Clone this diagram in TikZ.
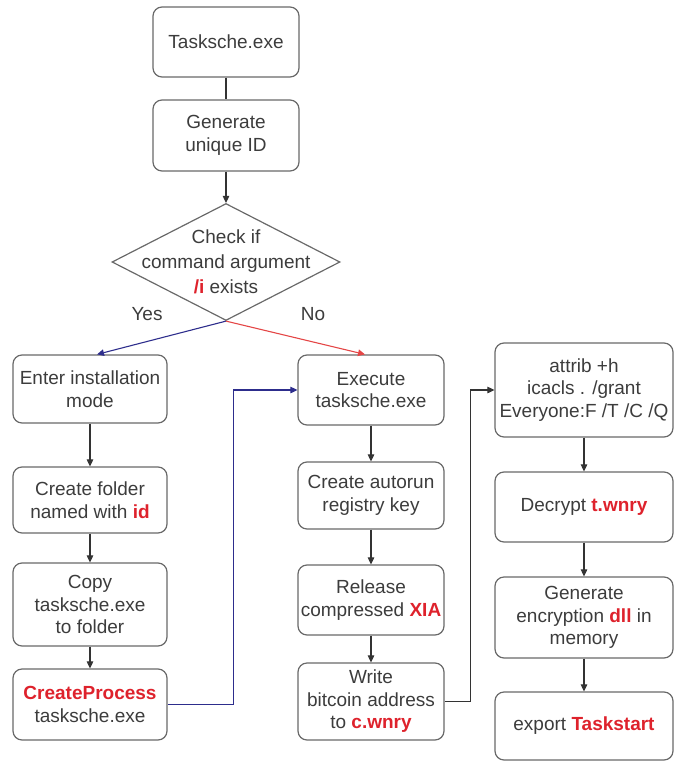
\documentclass[tikz,border=0pt]{standalone}
\usepackage{fontspec}
\setmainfont{Liberation Sans}
\usetikzlibrary{shapes.geometric,arrows.meta,calc}
\definecolor{txt}{RGB}{60,60,60}
\definecolor{bord}{RGB}{105,105,105}
\definecolor{hl}{RGB}{222,34,44}
\definecolor{navy}{RGB}{45,45,140}
\definecolor{redline}{RGB}{228,70,70}
\newcommand{\hlt}[1]{\textbf{\color{hl}#1}}
\tikzset{
  box/.style={draw=bord, line width=1.2pt, rounded corners=9pt, align=center,
    text=txt, font=\fontsize{19}{22.5}\selectfont, inner sep=0pt},
  conn/.style={draw=black!80, line width=1.1pt, -{Triangle[length=7pt,width=6.5pt]}},
  plainconn/.style={draw=black!80, line width=1.1pt},
  lbl/.style={text=txt, align=center, font=\fontsize{19}{25}\selectfont},
}
\begin{document}
\begin{tikzpicture}[x=1pt,y=-1pt]
\useasboundingbox (0,0) rectangle (679,763);
% top
\node[box, minimum width=146, minimum height=70] (t) at (226,42) {Tasksche.exe};
\node[box, minimum width=146, minimum height=71] (g) at (226,135.5) {Generate\\unique ID};
\node[diamond, draw=bord, line width=1.2pt, minimum width=228, minimum height=117, inner sep=0pt] (d) at (226,262) {};
\node[lbl] (dt) at (226,262) {Check if\\command argument\\\hlt{/i} exists};
\node[lbl] (yes) at (147,314) {Yes};
\node[lbl] (no) at (313,314) {No};
% left column
\node[box, minimum width=154, minimum height=68] (L1) at (90,389) {Enter installation\\mode};
\node[box, minimum width=154, minimum height=66] (L2) at (90,500) {Create folder\\named with \hlt{id}};
\node[box, minimum width=154, minimum height=83] (L3) at (90,604.5) {Copy\\tasksche.exe\\to folder};
\node[box, minimum width=154, minimum height=71] (L4) at (90,704.5) {\hlt{CreateProcess}\\tasksche.exe};
% middle column
\node[box, minimum width=146, minimum height=70] (M1) at (371,390) {Execute\\tasksche.exe};
\node[box, minimum width=146, minimum height=67] (M2) at (371,495.5) {Create autorun\\registry key};
\node[box, minimum width=146, minimum height=70] (M3) at (371,600) {Release\\compressed \hlt{XIA}};
\node[box, minimum width=146, minimum height=77] (M4) at (371,701.5) {Write\\bitcoin address\\to \hlt{c.wnry}};
% right column
\node[box, minimum width=178, minimum height=94] (R1) at (584,390) {attrib +h\\icacls . /grant\\Everyone:F /T /C /Q};
\node[box, minimum width=178, minimum height=70] (R2) at (584,507) {Decrypt \hlt{t.wnry}};
\node[box, minimum width=178, minimum height=81] (R3) at (584,617.5) {Generate\\encryption \hlt{dll} in\\memory};
\node[box, minimum width=178, minimum height=68] (R4) at (584,726) {export \hlt{Taskstart}};
% connectors
\draw[plainconn] (t) -- (g);
\draw[conn] (g) -- (d);
\draw[conn, draw=navy] (d.south) -- ([xshift=7pt]L1.north);
\draw[conn, draw=redline] (d.south) -- ([xshift=-6pt]M1.north);
\draw[conn] (L1) -- (L2);
\draw[conn] (L2) -- (L3);
\draw[conn] (L3) -- (L4);
\draw[conn] (M1) -- (M2);
\draw[conn] (M2) -- (M3);
\draw[conn] (M3) -- (M4);
\draw[conn] (R1) -- (R2);
\draw[conn] (R2) -- (R3);
\draw[conn] (R3) -- (R4);
\draw[conn, draw=navy] (L4.east) -- ++(66,0) |- (M1.west);
\draw[conn] (M4.east) -- ++(26,0) |- (R1.west);
\end{tikzpicture}
\end{document}
